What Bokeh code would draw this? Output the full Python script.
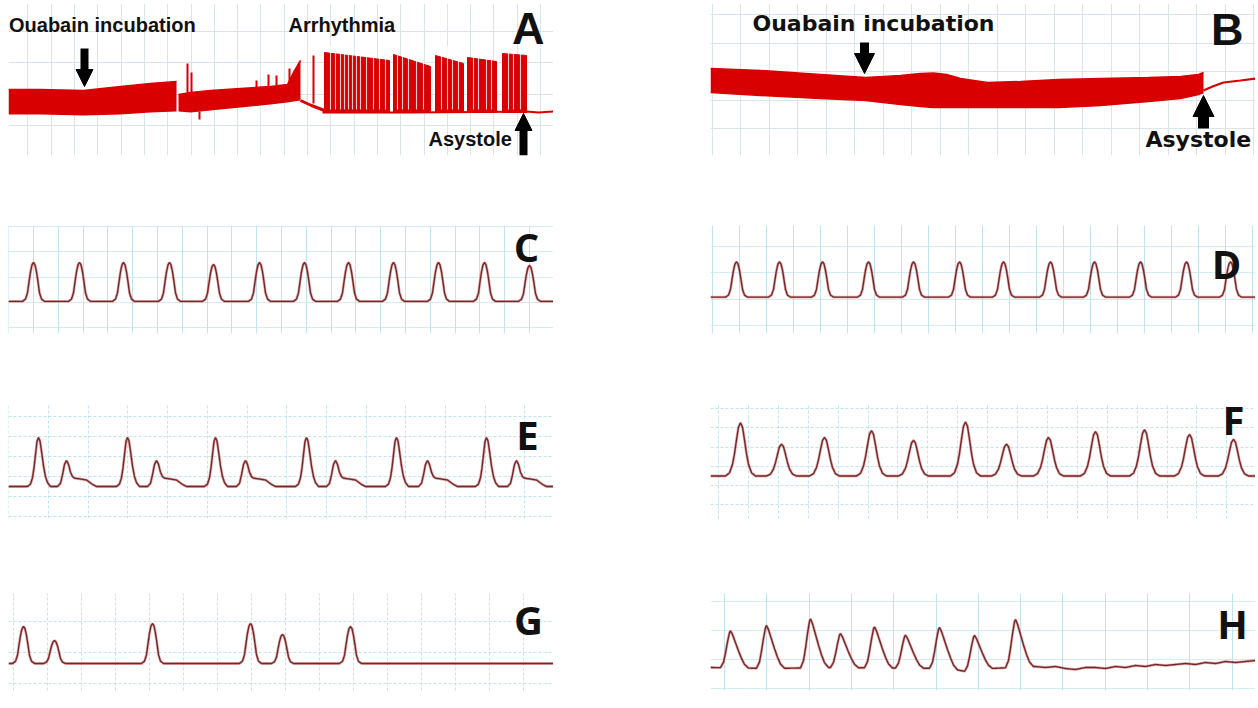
import numpy as np
from bokeh.plotting import figure
from bokeh.layouts import column, row
from bokeh.models import Range1d, FixedTicker, Arrow, NormalHead, Label, Spacer, Grid
from bokeh.embed import file_html
from bokeh.resources import INLINE

# ---------------- DATA (time in s, amplitude in mV) ----------------
# Panel A : envelope of the compressed recording
a1_t   = [0.00, 0.32, 0.75, 1.12, 1.42, 1.68]
a1_top = [0.36, 0.36, 0.35, 0.39, 0.42, 0.44]
a1_bot = [0.11, 0.11, 0.10, 0.11, 0.13, 0.14]
a2_t   = [1.70, 1.82, 2.02, 2.32, 2.62, 2.79, 2.85, 2.92]
a2_top = [0.31, 0.33, 0.35, 0.37, 0.39, 0.41, 0.53, 0.65]
a2_bot = [0.14, 0.13, 0.15, 0.18, 0.21, 0.23, 0.24, 0.25]
a_spike_t  = [1.79, 1.83, 1.91, 2.48, 2.60, 2.68, 2.81, 3.05]
a_spike_lo = [0.30, 0.30, 0.06, 0.37, 0.38, 0.40, 0.42, 0.22]
a_spike_hi = [0.62, 0.53, 0.14, 0.45, 0.51, 0.50, 0.57, 0.70]
a_link_t = [2.92, 3.03, 3.16]
a_link_v = [0.25, 0.20, 0.15]
a_burst_t0   = [3.16, 3.85, 4.27, 4.59, 4.94]
a_burst_t1   = [3.81, 4.22, 4.55, 4.88, 5.18]
a_burst_top0 = [0.73, 0.71, 0.70, 0.68, 0.72]
a_burst_top1 = [0.65, 0.59, 0.62, 0.64, 0.70]
a_burst_floor = 0.13
a_gap_t = [3.22, 3.27, 3.32, 3.36, 3.40, 3.44, 3.48, 3.52, 3.58, 3.65, 3.71, 3.77, 3.89, 3.94,
           4.00, 4.08, 4.15, 4.33, 4.39, 4.44, 4.50, 4.65, 4.70, 4.78, 4.83, 5.00, 5.05, 5.12]
a_base_t = [3.14, 4.00, 5.18, 5.30, 5.45]
a_base_v = [0.13, 0.13, 0.14, 0.13, 0.14]

# Panel B : envelope
b_t   = [0.00, 0.50, 1.10, 1.55, 1.90, 2.10, 2.23, 2.36, 2.50, 2.77, 3.10, 3.48, 3.90, 4.38, 4.70, 4.88, 4.93]
b_top = [0.60, 0.58, 0.54, 0.51, 0.53, 0.55, 0.555, 0.54, 0.50, 0.46, 0.47, 0.49, 0.50, 0.51, 0.52, 0.54, 0.56]
b_bot = [0.36, 0.33, 0.30, 0.28, 0.24, 0.22, 0.21, 0.21, 0.21, 0.21, 0.21, 0.21, 0.23, 0.27, 0.30, 0.34, 0.36]
b_after_t = [4.93, 5.02, 5.13, 5.30, 5.45]
b_after_v = [0.38, 0.42, 0.46, 0.48, 0.50]

# Panels C-H : beat times and amplitudes
c_peaks = [0.25, 0.71, 1.15, 1.61, 2.05, 2.51, 2.96, 3.40, 3.85, 4.30, 4.76, 5.21]
c_amps  = [0.40, 0.40, 0.40, 0.40, 0.38, 0.40, 0.40, 0.40, 0.40, 0.40, 0.40, 0.37]
d_peaks = [0.26, 0.69, 1.12, 1.58, 2.03, 2.49, 2.93, 3.40, 3.84, 4.30, 4.76, 5.20]
d_amps  = [0.36, 0.36, 0.36, 0.36, 0.36, 0.36, 0.36, 0.36, 0.36, 0.36, 0.36, 0.36]
e_big_peaks   = [0.30, 1.19, 2.07, 2.98, 3.88, 4.78]
e_big_amps    = [0.49, 0.49, 0.49, 0.49, 0.49, 0.49]
e_small_peaks = [0.58, 1.48, 2.37, 3.27, 4.19, 5.08]
e_small_amps  = [0.26, 0.26, 0.26, 0.26, 0.26, 0.26]
f_peaks = [0.30, 0.71, 1.14, 1.61, 2.03, 2.55, 2.96, 3.38, 3.85, 4.34, 4.79, 5.23]
f_amps  = [0.55, 0.33, 0.40, 0.47, 0.37, 0.56, 0.33, 0.40, 0.46, 0.48, 0.43, 0.38]
g_peaks = [0.15, 0.46, 1.44, 2.42, 2.74, 3.42]
g_amps  = [0.37, 0.23, 0.40, 0.40, 0.29, 0.37]
h_peaks = [0.20, 0.56, 1.00, 1.30, 1.64, 1.95, 2.29, 2.64, 3.05]
h_amps  = [0.37, 0.43, 0.49, 0.34, 0.41, 0.33, 0.41, 0.35, 0.48]
h_base_t = [0.00, 0.60, 1.20, 2.40, 2.55, 2.80, 3.25, 3.35, 3.45, 3.55, 3.65, 3.75, 3.85, 3.95,
            4.05, 4.15, 4.25, 4.35, 4.45, 4.55, 4.65, 4.75, 4.85, 4.95, 5.05, 5.15, 5.25, 5.35, 5.45]
h_base_v = [0.00, -0.01, 0.00, -0.01, -0.04, -0.01, 0.01, 0.00, 0.01, -0.01, -0.02, 0.00, 0.00, -0.01,
            0.01, 0.00, 0.02, 0.01, 0.03, 0.02, 0.03, 0.04, 0.03, 0.05, 0.04, 0.06, 0.05, 0.06, 0.07]

# beat shapes (offset s, fraction of peak)
tmpl_c_dx  = [-0.11, -0.08, -0.06, -0.045, -0.03, -0.015, 0, 0.015, 0.03, 0.045, 0.06, 0.08, 0.11]
tmpl_c_rel = [0, 0.06, 0.22, 0.50, 0.76, 0.94, 1, 0.94, 0.76, 0.50, 0.22, 0.06, 0]
tmpl_eb_dx  = [-0.11, -0.08, -0.06, -0.045, -0.03, -0.015, 0, 0.015, 0.03, 0.05, 0.07, 0.09, 0.12]
tmpl_eb_rel = [0, 0.05, 0.18, 0.38, 0.65, 0.92, 1, 0.93, 0.72, 0.42, 0.20, 0.08, 0]
tmpl_es_dx  = [-0.09, -0.06, -0.04, -0.02, 0, 0.02, 0.04, 0.06, 0.08, 0.12, 0.20, 0.26, 0.30]
tmpl_es_rel = [0, 0.12, 0.45, 0.85, 1, 0.85, 0.55, 0.38, 0.32, 0.30, 0.25, 0.08, 0]
tmpl_f_dx  = [-0.15, -0.11, -0.08, -0.06, -0.04, -0.02, 0, 0.02, 0.04, 0.06, 0.08, 0.11, 0.15]
tmpl_f_rel = [0, 0.06, 0.22, 0.42, 0.68, 0.92, 1, 0.92, 0.68, 0.42, 0.22, 0.06, 0]
tmpl_h_dx  = [-0.10, -0.07, -0.05, -0.03, -0.01, 0, 0.02, 0.05, 0.08, 0.11, 0.14, 0.18]
tmpl_h_rel = [0, 0.15, 0.40, 0.70, 0.95, 1, 0.90, 0.68, 0.46, 0.26, 0.10, 0]

RED = "#d80000"
TRACE_DARK = "#6e2a2a"
TRACE_HALO = "#d24a4a"
BASE_SHIFT = 0.45  # rendered alphabetic baseline sits this fraction of the font size low


def grid_ticks(origin, step, lo, hi):
    k0 = int(np.floor((lo - origin) / step)) - 1
    k1 = int(np.ceil((hi - origin) / step)) + 1
    ticks = [origin + k * step for k in range(k0, k1 + 1)]
    return [t for t in ticks if lo < t < hi]


def panel(w, frame_h, x_end, y_lo, y_hi, vx_origin, vx_step, hy_origin, hy_step,
          gcolor, dash="solid", top=0, bottom=0, halpha=1.0):
    p = figure(width=w, height=frame_h + top + bottom, x_range=Range1d(0, x_end),
               y_range=Range1d(y_lo, y_hi),
               x_axis_type=None, y_axis_type=None, toolbar_location=None,
               output_backend="svg", min_border_left=0, min_border_right=0,
               min_border_top=top, min_border_bottom=bottom)
    p.outline_line_color = None
    p.background_fill_color = "white"
    p.border_fill_color = "white"
    p.add_layout(Grid(dimension=0, ticker=FixedTicker(ticks=grid_ticks(vx_origin, vx_step, 0, x_end)),
                      grid_line_color=gcolor, grid_line_dash=dash, grid_line_width=1))
    p.add_layout(Grid(dimension=1, ticker=FixedTicker(ticks=grid_ticks(hy_origin, hy_step, y_lo, y_hi)),
                      grid_line_color=gcolor, grid_line_dash=dash, grid_line_width=1,
                      grid_line_alpha=halpha))
    return p


def build_trace(x_end, beats, base_t=(0.0, 10.0), base_v=(0.0, 0.0), n=1600):
    t = np.linspace(0, x_end, n)
    v = np.interp(t, base_t, base_v)
    for peaks, amps, dx, rel in beats:
        for tp, a in zip(peaks, amps):
            v = v + a * np.interp(t - tp, dx, rel, left=0, right=0)
    return t, v


def draw_trace(p, t, v):
    p.line(t, v, line_color=TRACE_HALO, line_width=2.8, line_alpha=0.45)
    p.line(t, v, line_color=TRACE_DARK, line_width=1.4)


def letter(p, x, y, s, font="Open Sans", size=40, align="center"):
    p.add_layout(Label(x=x, y=y + BASE_SHIFT * size / 100.0, text=s, text_font=font,
                       text_font_size=f"{size}px", text_font_style="bold",
                       text_color="#111111", text_align=align, text_baseline="alphabetic"))


# ---------------- Panel A ----------------
pA = panel(545, 152, 5.45, -0.30, 1.22, 0.66, 0.233, 0.0, 0.315, "#dbe4e8", bottom=10)
pA.varea(x=a1_t, y1=a1_bot, y2=a1_top, fill_color=RED)
pA.varea(x=a2_t, y1=a2_bot, y2=a2_top, fill_color=RED)
pA.line(a1_t, a1_top, line_color=RED, line_width=1.5)
pA.line(a2_t, a2_top, line_color=RED, line_width=1.5)
pA.segment(x0=a_spike_t, y0=a_spike_lo, x1=a_spike_t, y1=a_spike_hi, line_color=RED, line_width=2)
pA.line(a_link_t, a_link_v, line_color=RED, line_width=3)
pA.patches(xs=[[t0, t0, t1, t1] for t0, t1 in zip(a_burst_t0, a_burst_t1)],
           ys=[[a_burst_floor, y0, y1, a_burst_floor] for y0, y1 in zip(a_burst_top0, a_burst_top1)],
           fill_color=RED, line_color=RED, line_width=1)
pA.segment(x0=a_gap_t, y0=[a_burst_floor + 0.03] * len(a_gap_t), x1=a_gap_t,
           y1=[0.80] * len(a_gap_t), line_color="white", line_width=1.1, line_alpha=0.8)
pA.line(a_base_t, a_base_v, line_color=RED, line_width=2)
pA.add_layout(Arrow(end=NormalHead(size=17, fill_color="black", line_color="black"),
                    x_start=0.76, y_start=0.77, x_end=0.76, y_end=0.39,
                    line_width=8, line_color="black"))
pA.add_layout(Arrow(end=NormalHead(size=17, fill_color="black", line_color="black"),
                    x_start=5.15, y_start=-0.30, x_end=5.15, y_end=0.12,
                    line_width=8, line_color="black"))
letter(pA, 0.005, 0.92, "Ouabain incubation", font="Liberation Sans", size=20, align="left")
letter(pA, 2.80, 0.92, "Arrhythmia", font="Liberation Sans", size=20, align="left")
letter(pA, 4.20, -0.22, "Asystole", font="Liberation Sans", size=20, align="left")
letter(pA, 5.36, 0.77, "A", font="Liberation Sans", size=45, align="right")

# ---------------- Panel B ----------------
pB = panel(545, 152, 5.45, -0.27, 1.25, 0.30, 0.285, 0.0, 0.285, "#dbe4e8", bottom=10)
pB.varea(x=b_t, y1=b_bot, y2=b_top, fill_color=RED)
pB.line(b_t, b_top, line_color=RED, line_width=1.5)
pB.line(b_t, b_bot, line_color=RED, line_width=1.5)
pB.line(b_after_t, b_after_v, line_color=RED, line_width=2.2)
pB.add_layout(Arrow(end=NormalHead(size=20, fill_color="black", line_color="black"),
                    x_start=1.54, y_start=0.86, x_end=1.54, y_end=0.55,
                    line_width=9, line_color="black"))
pB.add_layout(Arrow(end=NormalHead(size=21, fill_color="black", line_color="black"),
                    x_start=4.93, y_start=0.0, x_end=4.93, y_end=0.33,
                    line_width=11, line_color="black"))
letter(pB, 0.42, 0.95, "Ouabain incubation", font="DejaVu Sans", size=22, align="left")
letter(pB, 4.35, -0.21, "Asystole", font="DejaVu Sans", size=22, align="left")
letter(pB, 5.33, 0.79, "B", font="Liberation Sans", size=45, align="right")

CY = "#c2e3eb"
TB = 25   # room above the grid for the panel letters
BB = 10

# ---------------- Panel C ----------------
pC = panel(545, 111, 5.45, -0.33, 0.78, 0.25, 0.248, -0.27, 0.26, CY, top=TB, bottom=2 + BB, halpha=0.7)
t, v = build_trace(5.45, [(c_peaks, c_amps, tmpl_c_dx, tmpl_c_rel)])
draw_trace(pC, t, v)
letter(pC, 5.18, 0.38, "C")

# ---------------- Panel D ----------------
pD = panel(545, 110, 5.45, -0.37, 0.73, 0.02, 0.27, -0.29, 0.27, CY, top=TB + 3, bottom=BB, halpha=0.7)
t, v = build_trace(5.45, [(d_peaks, d_amps, tmpl_c_dx, tmpl_c_rel)])
draw_trace(pD, t, v)
letter(pD, 5.16, 0.16, "D")

# ---------------- Panel E ----------------
pE = panel(545, 113, 5.45, -0.32, 0.81, 0.40, 0.397, -0.30, 0.20, CY, dash="3 2", top=TB, bottom=4 + BB)
t, v = build_trace(5.45, [(e_big_peaks, e_big_amps, tmpl_eb_dx, tmpl_eb_rel),
                          (e_small_peaks, e_small_amps, tmpl_es_dx, tmpl_es_rel)])
draw_trace(pE, t, v)
letter(pE, 5.19, 0.34, "E")

# ---------------- Panel F ----------------
pF = panel(545, 117, 5.45, -0.44, 0.73, 0.08, 0.299, -0.30, 0.20, CY, dash="3 2", top=TB, bottom=BB)
t, v = build_trace(5.45, [(f_peaks, f_amps, tmpl_f_dx, tmpl_f_rel)])
draw_trace(pF, t, v)
letter(pF, 5.23, 0.41, "F")

# ---------------- Panel G ----------------
pG = panel(545, 97, 5.45, -0.27, 0.70, 0.39, 0.34, -0.20, 0.31, CY, dash="3 2", top=TB, bottom=BB)
t, v = build_trace(5.45, [(g_peaks, g_amps, tmpl_c_dx, tmpl_c_rel)])
draw_trace(pG, t, v)
letter(pG, 5.20, 0.26, "G")

# ---------------- Panel H ----------------
pH = panel(545, 97, 5.45, -0.23, 0.74, 0.14, 0.423, -0.21, 0.29, CY, halpha=0.7, top=TB, bottom=BB)
t, v = build_trace(5.45, [(h_peaks, h_amps, tmpl_h_dx, tmpl_h_rel)], h_base_t, h_base_v)
draw_trace(pH, t, v)
letter(pH, 5.22, 0.26, "H")

GAP = 157
layout = row(
    Spacer(width=8, height=10),
    column(
        Spacer(width=10, height=3),
        row(pA, Spacer(width=GAP, height=10), pB),
        Spacer(width=10, height=32),
        row(pC, Spacer(width=GAP, height=10), pD),
        Spacer(width=10, height=35),
        row(pE, Spacer(width=GAP, height=10), pF),
        Spacer(width=10, height=36),
        row(pG, Spacer(width=GAP, height=10), pH),
    ),
)

open("out.html", "w").write(file_html(layout, INLINE))
